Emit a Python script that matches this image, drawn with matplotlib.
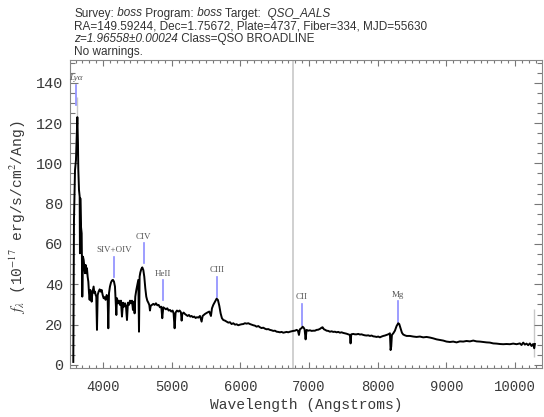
import matplotlib
matplotlib.use("Agg")
import matplotlib.pyplot as plt
from matplotlib.ticker import MultipleLocator

# Observed-frame spectrum (Angstroms, 1e-17 erg/s/cm^2/Ang)
wave = [
    3567, 3572, 3577, 3592, 3606, 3616, 3626, 3635, 3640, 3650, 3660, 3664, 3669, 3679,
    3689, 3698, 3708, 3718, 3728, 3737, 3747, 3757, 3766, 3776, 3786, 3796, 3805, 3815,
    3825, 3834, 3844, 3854, 3863, 3873, 3883, 3893, 3902, 3912, 3922, 3936, 3951, 3965,
    3980, 3995, 4009, 4024, 4038, 4053, 4067, 4077, 4087, 4101, 4116, 4130, 4145, 4160,
    4174, 4184, 4194, 4203, 4218, 4232, 4247, 4261, 4276, 4291, 4305, 4320, 4334, 4349,
    4363, 4378, 4393, 4407, 4422, 4436, 4451, 4460, 4470, 4485, 4499, 4514, 4524, 4533,
    4543, 4557, 4572, 4587, 4601, 4616, 4630, 4645, 4660, 4674, 4684, 4694, 4713, 4732,
    4752, 4771, 4791, 4810, 4829, 4849, 4863, 4878, 4897, 4917, 4936, 4956, 4975, 4994,
    5014, 5028, 5043, 5057, 5077, 5096, 5116, 5135, 5145, 5155, 5174, 5193, 5213, 5232,
    5252, 5271, 5290, 5310, 5329, 5349, 5368, 5388, 5412, 5436, 5451, 5485, 5519, 5548,
    5572, 5587, 5606, 5631, 5655, 5674, 5694, 5713, 5732, 5752, 5776, 5800, 5825, 5849,
    5873, 5898, 5922, 5946, 5970, 5995, 6019, 6043, 6067, 6092, 6116, 6140, 6164, 6189,
    6213, 6237, 6262, 6286, 6310, 6334, 6359, 6383, 6407, 6431, 6456, 6480, 6504, 6529,
    6553, 6577, 6601, 6626, 6650, 6674, 6698, 6723, 6747, 6771, 6796, 6820, 6839, 6854,
    6868, 6893, 6907, 6922, 6936, 6951, 6965, 6990, 7014, 7038, 7063, 7087, 7111, 7135,
    7160, 7184, 7198, 7218, 7237, 7257, 7281, 7305, 7330, 7354, 7378, 7402, 7427, 7451,
    7475, 7499, 7524, 7548, 7572, 7596, 7606, 7616, 7645, 7669, 7693, 7718, 7742, 7766,
    7791, 7815, 7839, 7863, 7888, 7912, 7936, 7960, 7985, 8009, 8033, 8058, 8082, 8106,
    8130, 8155, 8179, 8189, 8198, 8208, 8228, 8252, 8276, 8300, 8315, 8334, 8354, 8373,
    8397, 8422, 8470, 8519, 8567, 8616, 8664, 8713, 8762, 8810, 8859, 8907, 8956, 9004,
    9053, 9101, 9150, 9198, 9247, 9295, 9344, 9393, 9441, 9490, 9538, 9587, 9635, 9684,
    9732, 9781, 9829, 9878, 9927, 9975, 10024, 10072, 10096, 10121, 10145, 10169, 10193,
    10218, 10242, 10266, 10281, 10291,
]
flux = [
    1.5, 40.0, 72.0, 96.7, 101.7, 113.0, 122.9, 110.0, 97.0, 86.8, 83.5, 55.4, 82.7, 68.6,
    65.3, 33.9, 53.7, 52.1, 48.8, 45.5, 49.6, 45.5, 48.0, 43.8, 41.3, 35.6, 32.3, 37.2,
    34.7, 31.4, 35.6, 37.2, 38.9, 35.6, 36.4, 34.7, 33.9, 17.4, 34.7, 36.4, 37.5, 36.4,
    37.2, 34.7, 33.1, 33.6, 32.3, 34.7, 33.9, 18.2, 35.6, 38.9, 40.9, 41.9, 42.2, 41.3,
    38.9, 32.3, 24.8, 33.1, 30.6, 31.9, 29.8, 31.9, 24.0, 30.9, 28.9, 30.6, 29.3, 22.3,
    30.9, 29.8, 31.9, 30.6, 31.9, 27.3, 31.4, 25.6, 33.9, 37.2, 39.7, 42.2, 16.5, 43.8,
    45.8, 47.5, 48.4, 47.1, 43.8, 38.0, 33.9, 31.9, 30.9, 29.8, 27.0, 29.3, 29.8, 30.3,
    29.8, 30.6, 29.6, 29.8, 28.6, 28.9, 23.2, 28.6, 28.1, 27.6, 28.1, 27.0, 27.3, 26.5,
    27.0, 25.6, 18.2, 26.0, 27.0, 26.5, 27.0, 26.1, 22.0, 25.3, 26.0, 25.3, 24.8, 24.3,
    24.8, 24.0, 24.3, 23.7, 24.0, 23.3, 23.7, 23.5, 24.3, 21.5, 24.3, 25.3, 26.0, 26.5,
    24.3, 28.1, 29.8, 31.4, 32.9, 32.2, 29.3, 25.6, 23.2, 22.3, 22.0, 21.5, 21.0, 21.2,
    20.3, 20.7, 20.0, 20.2, 19.7, 20.0, 20.2, 20.3, 20.7, 20.5, 20.7, 20.3, 20.0, 19.7,
    19.5, 19.0, 19.3, 18.7, 18.3, 18.5, 18.0, 17.7, 17.8, 17.4, 17.2, 16.9, 17.0, 16.5,
    16.4, 16.2, 16.4, 16.0, 16.2, 16.4, 16.2, 16.5, 16.7, 16.9, 17.0, 17.4, 17.0, 14.9,
    17.7, 18.3, 19.0, 18.5, 17.7, 12.7, 17.4, 17.0, 17.2, 16.9, 17.0, 17.0, 17.4, 17.5,
    17.9, 18.5, 18.7, 17.7, 17.4, 17.0, 16.9, 16.5, 16.7, 16.4, 16.5, 16.2, 16.4, 16.0,
    16.2, 15.9, 15.7, 15.5, 15.2, 14.9, 10.7, 15.2, 15.4, 15.2, 15.2, 15.4, 15.1, 15.2,
    14.9, 14.7, 14.6, 14.7, 14.4, 14.6, 14.2, 14.1, 13.9, 14.1, 13.7, 14.1, 14.4, 14.6,
    14.9, 15.2, 15.7, 7.4, 9.1, 14.9, 15.7, 17.0, 19.3, 20.7, 20.3, 18.2, 16.0, 15.1,
    14.7, 14.4, 14.4, 14.1, 13.9, 14.1, 13.7, 13.9, 13.6, 13.2, 12.7, 12.4, 12.1, 11.6,
    11.4, 11.6, 11.2, 11.7, 11.6, 11.9, 11.7, 12.1, 11.7, 11.6, 11.4, 11.2, 11.1, 10.7,
    10.6, 10.4, 10.3, 10.4, 10.3, 10.6, 10.3, 10.7, 9.9, 11.1, 10.1, 10.6, 9.8,
    10.7, 9.4, 10.4, 8.3, 10.4,
]

# Noise spikes shown in grey behind the flux
err_wave = [3626, 10284]
err_lo = [123.0, 4.0]
err_hi = [133.0, 28.0]

# Emission-line markers
line_names = ["Ly\u03b1", "SIV+OIV", "CIV", "HeII", "CIII", "CII", "Mg"]
line_wave = [3609, 4160, 4594, 4873, 5661, 6898, 8298]
line_lo = [129.0, 43.8, 50.6, 32.0, 33.9, 19.8, 21.5]
line_hi = [139.0, 53.7, 60.5, 42.0, 43.8, 30.3, 31.7]

split_wave = 6771

x_ticks = [4000, 5000, 6000, 7000, 8000, 9000, 10000]
y_ticks = [0, 20, 40, 60, 80, 100, 120, 140]

W, H = 544, 417
fig = plt.figure(figsize=(W / 100, H / 100), dpi=100)
ax = fig.add_axes([70 / W, 1 - 368 / H, (541.7 - 70) / W, (368 - 59.5) / H])

ax.axvline(split_wave, color="#c8c8c8", lw=1.2, zorder=1)
ax.vlines(err_wave, err_lo, err_hi, color="#c8c8c8", lw=1.0, zorder=1)
ax.plot(wave, flux, color="black", lw=1.4, zorder=3)

for name, lw_, lo, hi in zip(line_names, line_wave, line_lo, line_hi):
    ax.plot([lw_, lw_], [lo, hi], color="#8c8cff", lw=1.2, zorder=2)
    ax.text(lw_, hi + 1.2, name, ha="center", va="bottom", fontsize=6.5,
            family="Liberation Serif", color="#555555",
            fontstyle="italic" if name.startswith("Ly") else "normal")

ax.set_xlim(3519, 10390)
ax.set_ylim(-1.5, 151.5)
ax.set_xticks(x_ticks)
ax.set_yticks(y_ticks)
ax.xaxis.set_minor_locator(MultipleLocator(100))
ax.yaxis.set_minor_locator(MultipleLocator(5))
ax.tick_params(which="both", direction="in", top=True, right=True, color="#777777", width=0.8)
ax.tick_params(axis="x", which="major", length=4, pad=8.5)
ax.tick_params(axis="x", which="minor", length=2)
ax.tick_params(axis="y", which="major", length=5.5, pad=5)
ax.tick_params(axis="y", which="minor", length=3.5)
for lab in ax.get_xticklabels():
    lab.set_family("Liberation Mono")
    lab.set_fontsize(10)
    lab.set_color("#3a3a3a")
for lab in ax.get_yticklabels():
    lab.set_family("Liberation Mono")
    lab.set_fontsize(11)
    lab.set_color("#3a3a3a")
for sp in ax.spines.values():
    sp.set_color("#888888")
    sp.set_linewidth(0.8)

ax.set_xlabel("Wavelength (Angstroms)", family="Liberation Mono", fontsize=10.5, color="#3a3a3a")
ax.xaxis.set_label_coords(0.5, -0.098)
ax.set_ylabel(r"$f_\lambda$ (10$^{-17}$ erg/s/cm$^2$/Ang)", family="Liberation Mono",
              fontsize=10.5, color="#3a3a3a", math_fontfamily="stix")
ax.yaxis.set_label_coords(-0.088, 0.49)

# Header block: runs of (text, style) laid out left to right
header = [
    [("Survey:", "normal"), (" boss", "italic"), (" Program:", "normal"), (" boss", "italic"),
     (" Target:", "normal"), ("  QSO_AALS", "italic")],
    [("RA=149.59244, Dec=1.75672, Plate=4737, Fiber=334, MJD=55630", "normal")],
    [("z=1.96558\u00b10.00024", "italic"), (" Class=QSO BROADLINE", "normal")],
    [("No warnings.", "normal")],
]
baselines = [16.5, 29.2, 41.8, 54.5]
renderer = fig.canvas.get_renderer()
for runs, yb in zip(header, baselines):
    x = 74.5
    for s, style in runs:
        t = fig.text(x / W, 1 - yb / H, s, fontsize=8.5, family="Liberation Sans",
                     fontstyle=style, va="baseline", ha="left", color="#333333")
        x += t.get_window_extent(renderer).width

fig.savefig("out.png", dpi=100)
